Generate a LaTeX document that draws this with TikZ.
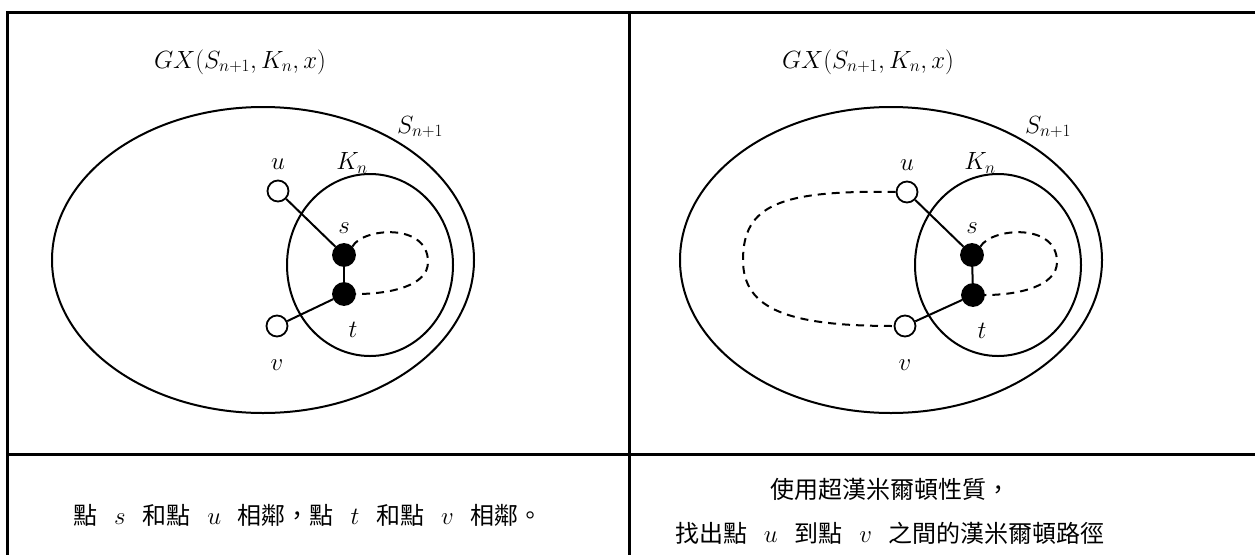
\documentclass[tikz,border=0pt]{standalone}
\usepackage{fontspec}
\newfontfamily\cjk{Noto Sans CJK TC}
\usetikzlibrary{positioning,shapes.geometric}
\newcommand{\mgap}{\hspace{0.7em}}
\newcommand{\pt}[1]{{\fontsize{27}{30}\selectfont$#1$}}

\begin{document}
\begin{tikzpicture}[
    x=1pt, y=-1pt,
    rule/.style={line width=3pt},
    setline/.style={draw, ellipse, line width=2pt, inner sep=0pt},
    open/.style={draw, circle, fill=white, line width=1.8pt, minimum size=21pt, inner sep=0pt},
    filled/.style={draw, circle, fill=black, line width=1.8pt, minimum size=22pt, inner sep=0pt},
    titlelabel/.style={font=\fontsize{25}{30}\selectfont, inner sep=0pt},
    biglabel/.style={font=\fontsize{27}{32}\selectfont, inner sep=0pt},
    vlabel/.style={font=\fontsize{23}{26}\selectfont, inner sep=0pt},
    link/.style={line width=2pt},
    walk/.style={line width=2pt, dash pattern=on 8pt off 6pt},
    caption/.style={font=\cjk\fontsize{24}{44}\selectfont, align=center, inner sep=0pt}
]
\useasboundingbox (0,0) rectangle (1255,555);
% table rules
\draw[rule] (1255,12) -- (7,12) -- (7,555);
\draw[rule] (629,12) -- (629,555);
\draw[rule] (7,454) -- (1255,454);

% left panel
\node[titlelabel] (titleL) at (240,62) {$GX(S_{n+1},K_n,x)$};
\node[setline, minimum width=422pt, minimum height=306pt] (SL) at (263,260) {};
\node[biglabel] (SlabL) at (420,127) {$S_{n+1}$};
\node[setline, minimum width=166pt, minimum height=182pt] (KL) at (370,265) {};
\node[biglabel] (KlabL) at (352,163) {$K_n$};
\node[open] (uL) at (278,191) {};
\node[open] (vL) at (277,326) {};
\node[filled] (sL) at (344,255) {};
\node[filled] (tL) at (344,294) {};
\node[vlabel, above=10pt of uL] (ulabL) {$u$};
\node[vlabel, below=22pt of vL] (vlabL) {$v$};
\node[vlabel, above=9pt of sL] (slabL) {$s$};
\node[vlabel, below=16pt of tL, xshift=9pt] (tlabL) {$t$};
\draw[link] (uL) -- (sL);
\draw[link] (vL) -- (tL);
\draw[link] (sL) -- (tL);
\coordinate (loopL) at (428,262);
\draw[walk] (sL.north east) .. controls (362,228) and (428,222) .. (loopL)
    .. controls (428,286) and (390,294) .. (tL.east);

% right panel
\node[titlelabel] (titleR) at (868,62) {$GX(S_{n+1},K_n,x)$};
\node[setline, minimum width=422pt, minimum height=306pt] (SR) at (891,260) {};
\node[biglabel] (SlabR) at (1048,127) {$S_{n+1}$};
\node[setline, minimum width=166pt, minimum height=182pt] (KR) at (998,265) {};
\node[biglabel] (KlabR) at (980,163) {$K_n$};
\node[open] (uR) at (907,192) {};
\node[open] (vR) at (905,326) {};
\node[filled] (sR) at (972,255) {};
\node[filled] (tR) at (973,295) {};
\node[vlabel, above=10pt of uR] (ulabR) {$u$};
\node[vlabel, below=22pt of vR] (vlabR) {$v$};
\node[vlabel, above=9pt of sR] (slabR) {$s$};
\node[vlabel, below=16pt of tR, xshift=9pt] (tlabR) {$t$};
\draw[link] (uR) -- (sR);
\draw[link] (vR) -- (tR);
\draw[link] (sR) -- (tR);
\coordinate (loopR) at (1057,262);
\draw[walk] (sR.north east) .. controls (991,228) and (1057,222) .. (loopR)
    .. controls (1057,286) and (1019,295) .. (tR.east);
\coordinate (farR) at (743,260);
\draw[walk] (uR.west) .. controls (780,190) and (743,205) .. (farR)
    .. controls (743,310) and (790,326) .. (vR.west);

% captions
\node[caption] (capL) at (308,515) {點\mgap\pt{s}\mgap 和點\mgap\pt{u}\mgap 相鄰，點\mgap\pt{t}\mgap 和點\mgap\pt{v}\mgap 相鄰。};
\node[caption] (capR) at (890,511) {使用超漢米爾頓性質，\\找出點\mgap\pt{u}\mgap 到點\mgap\pt{v}\mgap 之間的漢米爾頓路徑};
\end{tikzpicture}
\end{document}
